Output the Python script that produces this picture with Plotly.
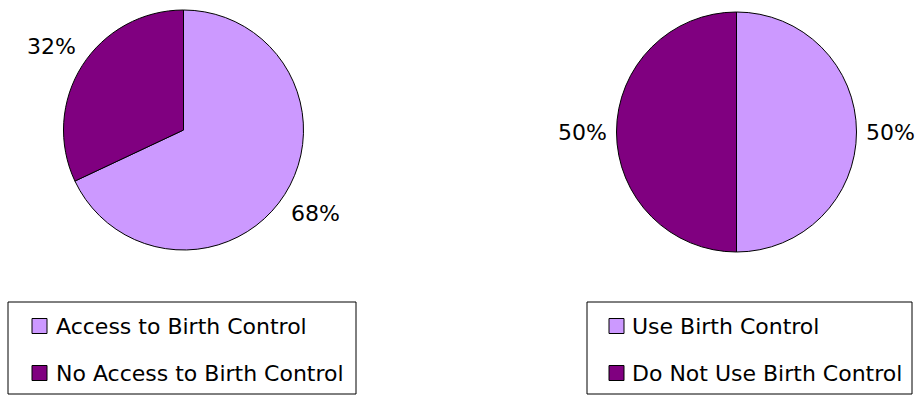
import math
import plotly.graph_objects as go

# Survey results
access_labels = ["Access to Birth Control", "No Access to Birth Control"]
access_values = [68, 32]
use_labels = ["Use Birth Control", "Do Not Use Birth Control"]
use_values = [50, 50]
slice_colors = ["#CC99FF", "#800080"]

W, H = 917, 395
FONT = "DejaVu Sans, Verdana, sans-serif"
FS = 22


def px(x):
    return x / W


def py(y):
    return 1 - y / H


fig = go.Figure()


def add_pie(labels, values, cx, cy, r, label_r):
    fig.add_trace(go.Pie(
        labels=labels,
        values=values,
        sort=False,
        direction="clockwise",
        rotation=0,
        marker=dict(colors=slice_colors, line=dict(color="#000000", width=1)),
        textinfo="none",
        showlegend=False,
        hoverinfo="label+percent",
        domain=dict(x=[px(cx - r), px(cx + r)], y=[py(cy + r), py(cy - r)]),
    ))
    # percentage labels placed outside each slice, along its middle angle
    total = sum(values)
    start = 0.0
    for v in values:
        sweep = 360.0 * v / total
        mid = math.radians(start + sweep / 2)
        start += sweep
        lx = cx + label_r * math.sin(mid)
        ly = cy - label_r * math.cos(mid)
        fig.add_annotation(xref="paper", yref="paper", x=px(lx), y=py(ly),
                           text=f"{round(100 * v / total)}%", showarrow=False,
                           xanchor="center", yanchor="middle",
                           font=dict(family=FONT, size=FS, color="#000000"))


add_pie(access_labels, access_values, 183.5, 130, 120, 156)
add_pie(use_labels, use_values, 736.5, 132, 120, 154)


def add_legend(labels, x0, x1, y0, y1, mx, tx, rows):
    fig.add_shape(type="rect", xref="paper", yref="paper",
                  x0=px(x0), x1=px(x1), y0=py(y1), y1=py(y0),
                  line=dict(color="#000000", width=1), fillcolor="#FFFFFF", layer="below")
    for lab, col, ry in zip(labels, slice_colors, rows):
        s = 7.5
        fig.add_shape(type="rect", xref="paper", yref="paper",
                      x0=px(mx), x1=px(mx + 2 * s), y0=py(ry + s), y1=py(ry - s),
                      line=dict(color="#000000", width=1), fillcolor=col)
        fig.add_annotation(xref="paper", yref="paper", x=px(tx), y=py(ry),
                           text=lab, showarrow=False, xanchor="left", yanchor="middle",
                           font=dict(family=FONT, size=FS, color="#000000"))


add_legend(access_labels, 8, 356, 302, 394, 32, 54, [326, 373])
add_legend(use_labels, 587, 912, 302, 394, 609, 630, [326, 373])

fig.update_layout(
    width=W, height=H,
    margin=dict(l=0, r=0, t=0, b=0),
    paper_bgcolor="#FFFFFF",
    plot_bgcolor="#FFFFFF",
    font=dict(family=FONT, size=FS, color="#000000"),
)

fig.write_html("out.html")
